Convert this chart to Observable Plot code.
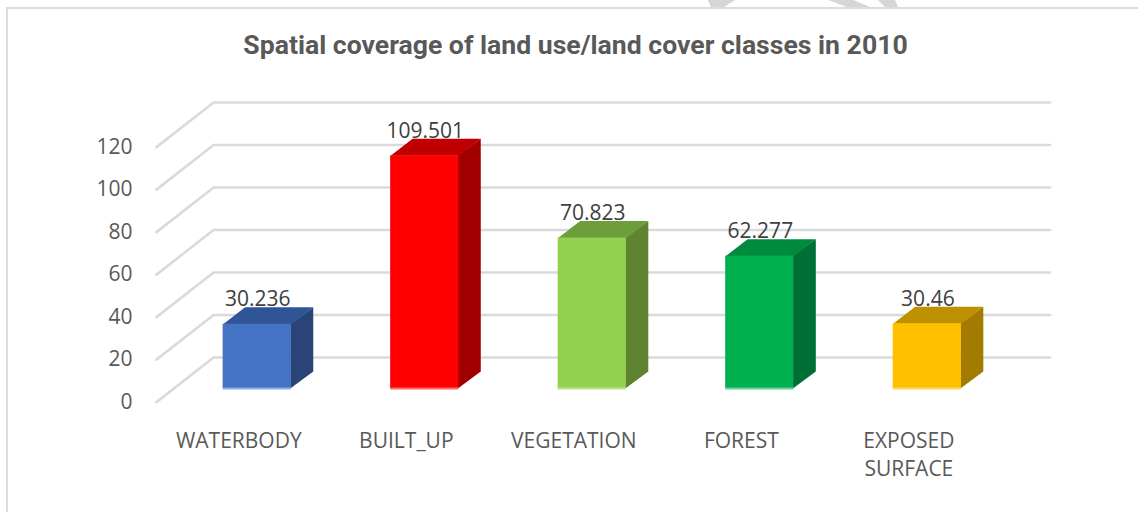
<!DOCTYPE html>
<html>
<head>
<meta charset="utf-8">
<script src="https://cdn.jsdelivr.net/npm/d3@7"></script>
<script src="https://cdn.jsdelivr.net/npm/@observablehq/plot@0.6"></script>
<style>
html,body{margin:0;padding:0;background:#fff;overflow:hidden}
#wrap{position:relative;width:1138px;height:512px}
#wrap svg{position:absolute;left:0;top:0;background:transparent}
.edge{position:absolute;background:#dcdcdc}
.wedge{position:absolute;top:0;height:7px;background:#d6d6d6}
</style>
</head>
<body>
<div id="wrap">
  <div class="wedge" style="left:708px;width:27px;clip-path:polygon(0 0,100% 0,60% 100%,10% 100%)"></div>
  <div class="wedge" style="left:828px;width:42px;clip-path:polygon(0 0,60% 0,100% 100%,45% 100%)"></div>
  <div class="wedge" style="left:878px;width:20px;clip-path:polygon(0 0,85% 0,100% 100%,35% 100%)"></div>
  <div class="edge" style="left:6px;top:7px;width:1132px;height:2px"></div>
  <div class="edge" style="left:6px;top:7px;width:2px;height:505px"></div>
</div>
<script>
const categories = ["WATERBODY", "BUILT_UP", "VEGETATION", "FOREST", "EXPOSED\nSURFACE"];
const values = [30.236, 109.501, 70.823, 62.277, 30.46];
const labels = ["30.236", "109.501", "70.823", "62.277", "30.46"];
const frontColors = ["#4472c4", "#ff0000", "#92d050", "#00b050", "#ffc000"];
const topColors = ["#2f5597", "#c00000", "#6e9d3c", "#008a3e", "#bf9000"];
const sideColors = ["#2a4478", "#a00000", "#5e8432", "#006f35", "#a37b00"];
const baseColors = ["#8faadc", "#ff6666", "#bee28f", "#66d096", "#ffd966"];
const yTicks = [0, 20, 40, 60, 80, 100, 120];

// Depth of the 3-D box, in scale units
const barLeft = -0.207, barRight = 0.2, barDX = 0.131, barDY = 8;
const wallFrontX = -0.605, wallBackX = -0.264, wallEndX = 4.73, floorFront = -6.4, floorBack = 14.6;

const bars = values.map((v, i) => ({i, v, label: labels[i], name: categories[i], front: frontColors[i], base: baseColors[i]}));

const faces = bars.flatMap(({i, v}) => {
  const l = i + barLeft, r = i + barRight;
  const side = [[r - 0.006, 0], [r + barDX, barDY], [r + barDX, v + barDY], [r - 0.006, v]];
  const top = [[l, v], [l + barDX, v + barDY], [r + barDX, v + barDY], [r, v]];
  return [
    ...side.map(([x, y]) => ({x, y, id: `s${i}`, color: sideColors[i]})),
    ...top.map(([x, y]) => ({x, y, id: `t${i}`, color: topColors[i]}))
  ];
});

const grid = yTicks.flatMap(t => [
  {x: wallFrontX, y: t + floorFront, t},
  {x: wallBackX, y: t + floorBack, t},
  {x: wallEndX, y: t + floorBack, t}
]);

const chart = Plot.plot({
  width: 1138, height: 512,
  marginTop: 0, marginRight: 0, marginBottom: 0, marginLeft: 0,
  style: {background: "transparent"},
  x: {domain: [-1.536, 5.2573], range: [0, 1138], axis: null},
  y: {domain: [-58.35, 182.59], range: [512, 0], axis: null},
  marks: [
    Plot.line(grid, {x: "x", y: "y", z: "t", stroke: "#dadada", strokeWidth: 2.6, curve: "linear"}),
    Plot.text(yTicks, {x: wallFrontX, y: d => d + floorFront, text: d => String(d), dx: -24, textAnchor: "end",
      fontFamily: "Open Sans", fontSize: 21, fill: "#595959"}),
    Plot.text(bars, {x: "i", y: "v", text: "label", dy: -25,
      fontFamily: "Open Sans", fontSize: 21, fill: "#404040"}),
    Plot.line(faces, {x: "x", y: "y", z: "id", fill: "color", stroke: null, curve: "linear"}),
    Plot.rect(bars, {x1: d => d.i + barLeft, x2: d => d.i + barRight, y1: 0, y2: "v", fill: "front"}),
    Plot.ruleY(bars, {x1: d => d.i + barLeft, x2: d => d.i + barRight, y: 0, stroke: "base", strokeWidth: 2}),
    Plot.text(bars, {x: "i", y: floorFront, text: "name", dx: -19, dy: 26, lineAnchor: "top", lineHeight: 1.33,
      fontFamily: "Open Sans", fontSize: 21, fill: "#595959"}),
    Plot.text(["Spatial coverage of land use/land cover classes in 2010"], {
      frameAnchor: "top", dx: 6, dy: 35, lineAnchor: "top", text: d => d,
      fontFamily: "Roboto", fontWeight: "700", fontSize: 26.6, fill: "#595959"})
  ]
});
document.getElementById("wrap").appendChild(chart);
</script>
</body>
</html>
